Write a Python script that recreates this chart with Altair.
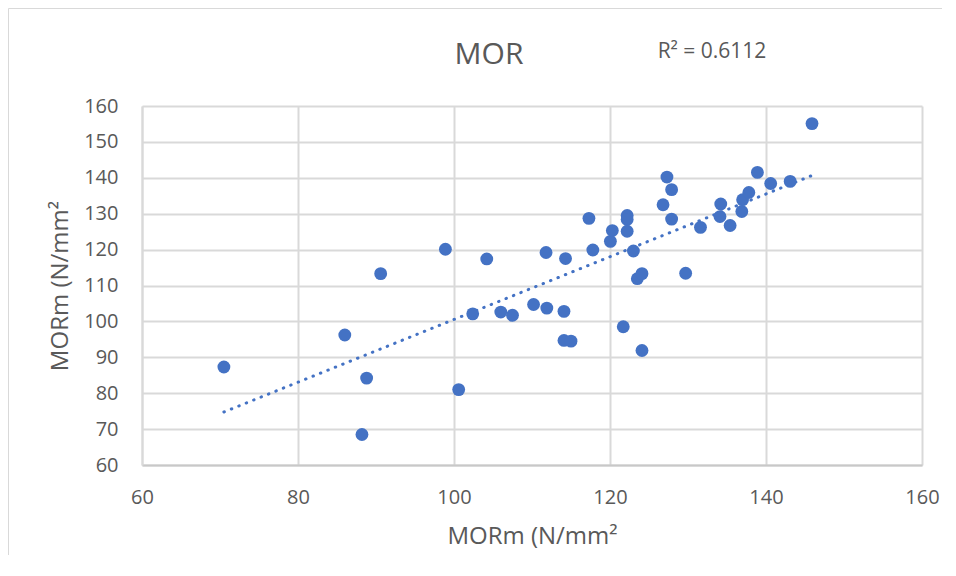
import altair as alt
import pandas as pd

# Data (MORm vs MORm)
x_vals = [70.5, 86.0, 88.8, 88.2, 90.6, 98.9, 104.2, 102.4, 100.6, 106.0,
          107.5, 110.2, 111.9, 111.8, 114.1, 114.3, 114.1, 115.0, 117.3, 117.8,
          120.05, 120.3, 121.7, 122.2, 122.2, 122.2, 123.0, 123.5, 124.1, 124.1,
          126.8, 127.3, 127.9, 127.9, 129.7, 131.6, 134.2, 134.1, 135.4, 136.9,
          137.0, 137.8, 138.9, 140.6, 143.1, 145.9]
y_vals = [87.3, 96.2, 84.2, 68.5, 113.3, 120.1, 117.4, 102.1, 81.0, 102.6,
          101.7, 104.7, 103.7, 119.2, 102.8, 117.5, 94.7, 94.5, 128.7, 119.9,
          122.3, 125.3, 98.5, 129.5, 128.4, 125.1, 119.6, 111.9, 113.3, 91.9,
          132.5, 140.2, 136.7, 128.5, 113.4, 126.2, 132.7, 129.2, 126.7, 130.6,
          133.9, 135.9, 141.5, 138.4, 139.0, 155.1]
x_ticks = [60, 80, 100, 120, 140, 160]
y_ticks = [60, 70, 80, 90, 100, 110, 120, 130, 140, 150, 160]
title_text = ["MOR"]
r2_text = ["R² = 0.6112"]
axis_title = "MORm (N/mm²"

FONT = "Open Sans"
GREY = "#595959"
BLUE = "#4472C4"
GRID = "#d9d9d9"

W, H = 780, 359
PAD = {"left": 134, "top": 98, "right": 20, "bottom": 90}

df = pd.DataFrame({"x": x_vals, "y": y_vals})

xs = alt.Scale(domain=[60, 160], nice=False, zero=False)
ys = alt.Scale(domain=[60, 160], nice=False, zero=False)

xaxis = alt.Axis(values=x_ticks, tickCount=6, title=axis_title, grid=True, gridColor=GRID,
                 gridWidth=2, domainColor="#c8c8c8", domainWidth=2, ticks=False,
                 labelFlush=False, labelOverlap=False,
                 labelFont=FONT, labelFontSize=20, labelColor=GREY, labelPadding=22,
                 titleFont=FONT, titleFontSize=24, titleFontWeight="normal",
                 titleColor=GREY, titlePadding=17)
yaxis = alt.Axis(values=y_ticks, tickCount=11, title=axis_title, grid=True, gridColor=GRID,
                 gridWidth=2, domainColor=GRID, domainWidth=2, ticks=False,
                 labelFlush=False, labelOverlap=False,
                 labelFont=FONT, labelFontSize=20, labelColor=GREY, labelPadding=24,
                 titleFont=FONT, titleFontSize=24, titleFontWeight="normal",
                 titleColor=GREY, titlePadding=11)

base = alt.Chart(df)

points = base.mark_circle(size=165, color=BLUE, opacity=1).encode(
    x=alt.X("x:Q", scale=xs, axis=xaxis),
    y=alt.Y("y:Q", scale=ys, axis=yaxis),
)

trend = base.transform_regression("x", "y").mark_line(
    color=BLUE, strokeWidth=3, strokeDash=[0.5, 7.5], strokeCap="round"
).encode(
    x=alt.X("x:Q", scale=xs, axis=xaxis),
    y=alt.Y("y:Q", scale=ys, axis=yaxis),
)

title = alt.Chart(pd.DataFrame({"t": title_text})).mark_text(
    font=FONT, fontSize=30, color=GREY, align="center", baseline="alphabetic"
).encode(text="t:N", x=alt.value(347), y=alt.value(-42.5))

r2 = alt.Chart(pd.DataFrame({"t": r2_text})).mark_text(
    font=FONT, fontSize=21, color=GREY, align="center", baseline="alphabetic"
).encode(text="t:N", x=alt.value(570), y=alt.value(-48.5))

frame_top = alt.Chart(pd.DataFrame({"a": [0]})).mark_rule(color=GRID, strokeWidth=1).encode(
    x=alt.value(-133.5), x2=alt.value(W + PAD["right"]), y=alt.value(-97.5)
)
frame_left = alt.Chart(pd.DataFrame({"a": [0]})).mark_rule(color=GRID, strokeWidth=1).encode(
    x=alt.value(-133.5), y=alt.value(-97.5), y2=alt.value(H + PAD["bottom"])
)

chart = alt.layer(frame_top, frame_left, trend, points, title, r2).properties(
    width=W, height=H, padding=PAD,
    autosize=alt.AutoSizeParams(type="none"),
    background="white",
).configure_view(stroke=None)

chart.save("out.html", embed_options={"renderer": "svg", "actions": False})
